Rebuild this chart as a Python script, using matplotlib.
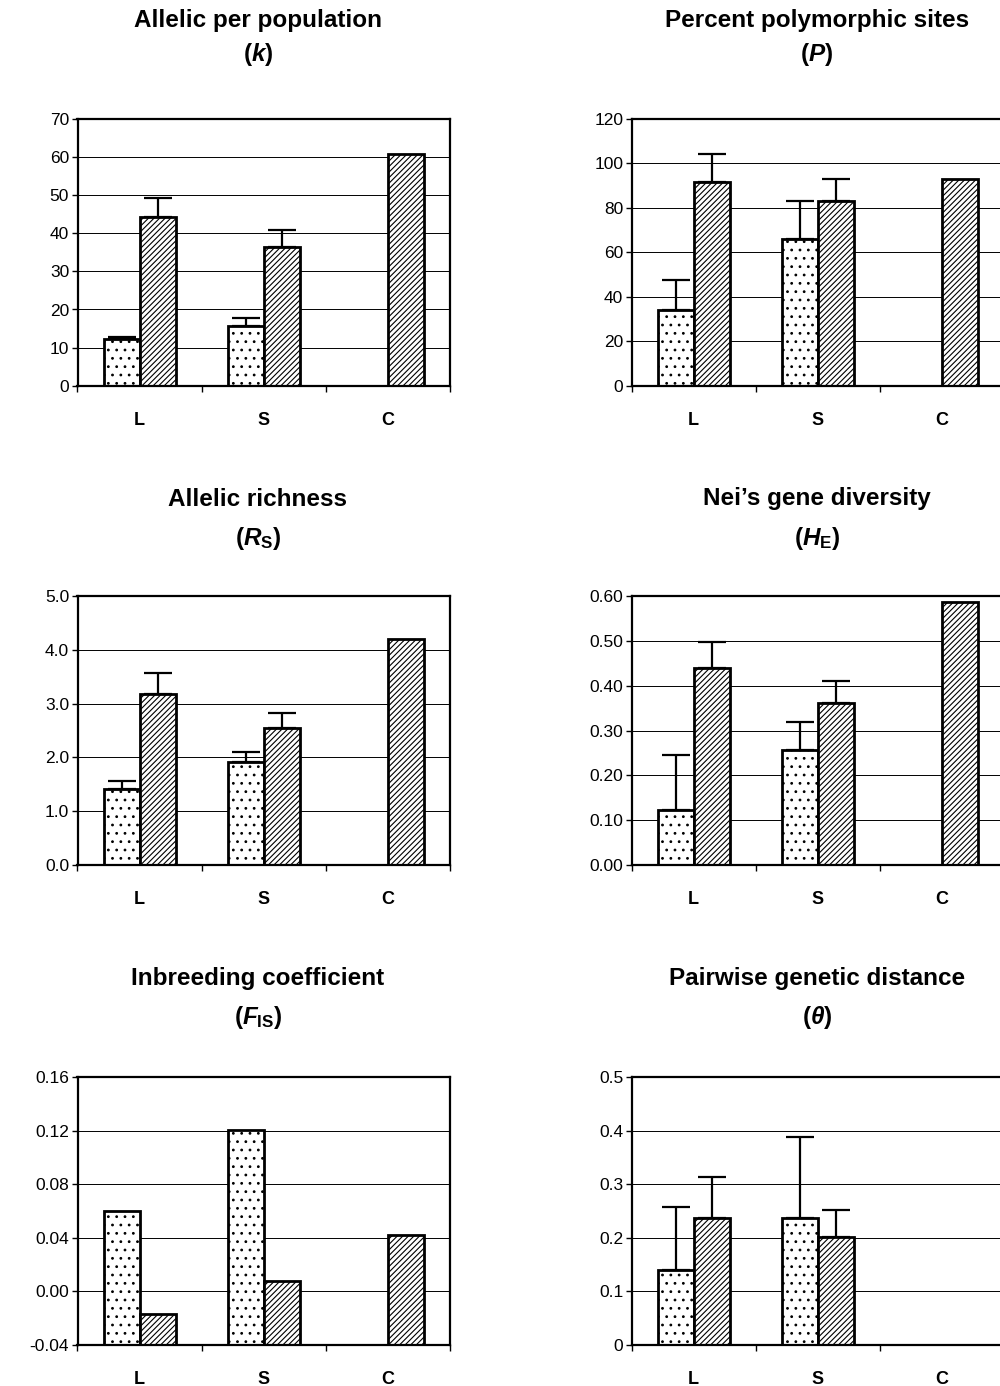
import numpy as np
import matplotlib
matplotlib.use('Agg')
import matplotlib.pyplot as plt

plt.rcParams['font.family'] = ['Liberation Sans', 'DejaVu Sans']
plt.rcParams['mathtext.fontset'] = 'custom'
plt.rcParams['mathtext.it'] = 'Liberation Sans:italic:bold'
plt.rcParams['mathtext.rm'] = 'Liberation Sans:bold'
plt.rcParams['mathtext.bf'] = 'Liberation Sans:bold'
plt.rcParams['hatch.linewidth'] = 0.8

categories = ['L', 'S', 'C']
nan = np.nan

# Panel 1: Allelic per population (k)
k_dotted = [12.2, 15.7, nan]
k_dotted_err = [0.7, 2.1, nan]
k_hatched = [44.2, 36.5, 60.7]
k_hatched_err = [5.0, 4.3, nan]
k_ticks = [0, 10, 20, 30, 40, 50, 60, 70]
k_ticklabels = ['0', '10', '20', '30', '40', '50', '60', '70']

# Panel 2: Percent polymorphic sites (P)
p_dotted = [34.0, 66.0, nan]
p_dotted_err = [13.5, 17.2, nan]
p_hatched = [91.8, 83.2, 92.8]
p_hatched_err = [12.3, 9.6, nan]
p_ticks = [0, 20, 40, 60, 80, 100, 120]
p_ticklabels = ['0', '20', '40', '60', '80', '100', '120']

# Panel 3: Allelic richness (Rs)
rs_dotted = [1.42, 1.91, nan]
rs_dotted_err = [0.14, 0.19, nan]
rs_hatched = [3.18, 2.55, 4.20]
rs_hatched_err = [0.39, 0.28, nan]
rs_ticks = [0.0, 1.0, 2.0, 3.0, 4.0, 5.0]
rs_ticklabels = ['0.0', '1.0', '2.0', '3.0', '4.0', '5.0']

# Panel 4: Nei's gene diversity (HE)
he_dotted = [0.123, 0.257, nan]
he_dotted_err = [0.122, 0.061, nan]
he_hatched = [0.440, 0.362, 0.587]
he_hatched_err = [0.057, 0.049, nan]
he_ticks = [0.0, 0.1, 0.2, 0.3, 0.4, 0.5, 0.6]
he_ticklabels = ['0.00', '0.10', '0.20', '0.30', '0.40', '0.50', '0.60']

# Panel 5: Inbreeding coefficient (FIS)
fis_dotted = [0.060, 0.121, nan]
fis_dotted_err = [nan, nan, nan]
fis_hatched = [-0.017, 0.008, 0.042]
fis_hatched_err = [nan, nan, nan]
fis_ticks = [-0.04, 0.0, 0.04, 0.08, 0.12, 0.16]
fis_ticklabels = ['-0.04', '0.00', '0.04', '0.08', '0.12', '0.16']

# Panel 6: Pairwise genetic distance (theta)
th_dotted = [0.141, 0.237, nan]
th_dotted_err = [0.117, 0.151, nan]
th_hatched = [0.237, 0.202, nan]
th_hatched_err = [0.076, 0.050, nan]
th_ticks = [0.0, 0.1, 0.2, 0.3, 0.4, 0.5]
th_ticklabels = ['0', '0.1', '0.2', '0.3', '0.4', '0.5']

titles = ['Allelic per population', 'Percent polymorphic sites',
          'Allelic richness', 'Nei\u2019s gene diversity',
          'Inbreeding coefficient', 'Pairwise genetic distance']
subtitles = [r'($k$)', r'($P$)', r'($R_\mathrm{S}$)', r'($H_\mathrm{E}$)',
             r'($F_\mathrm{IS}$)', r'($\theta$)']

panels = [
    (k_dotted, k_dotted_err, k_hatched, k_hatched_err, k_ticks, k_ticklabels),
    (p_dotted, p_dotted_err, p_hatched, p_hatched_err, p_ticks, p_ticklabels),
    (rs_dotted, rs_dotted_err, rs_hatched, rs_hatched_err, rs_ticks, rs_ticklabels),
    (he_dotted, he_dotted_err, he_hatched, he_hatched_err, he_ticks, he_ticklabels),
    (fis_dotted, fis_dotted_err, fis_hatched, fis_hatched_err, fis_ticks, fis_ticklabels),
    (th_dotted, th_dotted_err, th_hatched, th_hatched_err, th_ticks, th_ticklabels),
]

W, H = 1000, 1386
fig = plt.figure(figsize=(W / 100, H / 100), dpi=100)

col_x = [(77.5, 450.0), (631.5, 1004.0)]
row_y = [(119.0, 385.7), (596.0, 865.0), (1077.3, 1345.0)]
title_off = [(99, 64), (97, 58), (99, 60)]
title_cx = [258, 817]

bw = 0.29
x = np.arange(len(categories))

for i, (dv, de, hv, he, ticks, tlabels) in enumerate(panels):
    r, c = divmod(i, 2)
    x0, x1 = col_x[c]
    y0, y1 = row_y[r]
    ax = fig.add_axes([x0 / W, 1 - y1 / H, (x1 - x0) / W, (y1 - y0) / H])
    ymin, ymax = ticks[0], ticks[-1]
    base = ymin

    dv = np.array(dv, float); de = np.array(de, float)
    hv = np.array(hv, float); he = np.array(he, float)

    for vals, errs, off, hatch in ((dv, de, -bw / 2, '..'), (hv, he, bw / 2, '//////')):
        m = ~np.isnan(vals)
        ax.bar(x[m] + off, vals[m] - base, bottom=base, width=bw,
               facecolor='white', edgecolor='black', linewidth=2.0,
               hatch=hatch, zorder=2)
        me = m & ~np.isnan(errs)
        if me.any():
            ax.errorbar(x[me] + off, vals[me],
                        yerr=[np.zeros(me.sum()), errs[me]],
                        fmt='none', ecolor='black', elinewidth=1.6,
                        capsize=10, capthick=1.6, zorder=3)

    ax.set_xlim(-0.5, 2.5)
    ax.set_ylim(ymin, ymax)
    ax.set_yticks(ticks)
    ax.set_yticklabels(tlabels)
    ax.yaxis.grid(True, color='black', linewidth=0.7)
    ax.set_axisbelow(True)
    ax.tick_params(axis='y', direction='out', length=4, width=1, pad=2,
                   labelsize=12.5)

    ax.set_xticks(x)
    ax.set_xticklabels(categories, fontweight='bold', fontsize=13)
    ax.set_xticks([-0.5, 0.5, 1.5, 2.5], minor=True)
    ax.tick_params(axis='x', which='major', length=0, pad=19)
    ax.tick_params(axis='x', which='minor', length=4, width=1, direction='out')

    for s in ax.spines.values():
        s.set_linewidth(1.6)
        s.set_color('black')

    cx = title_cx[c] / W
    o1, o2 = title_off[r]
    fig.text(cx, 1 - (y0 - o1) / H, titles[i], ha='center', va='center',
             fontsize=17.5, fontweight='bold')
    fig.text(cx, 1 - (y0 - o2) / H, subtitles[i], ha='center', va='center',
             fontsize=17.5, fontweight='bold')

fig.savefig('out.png', dpi=100)
